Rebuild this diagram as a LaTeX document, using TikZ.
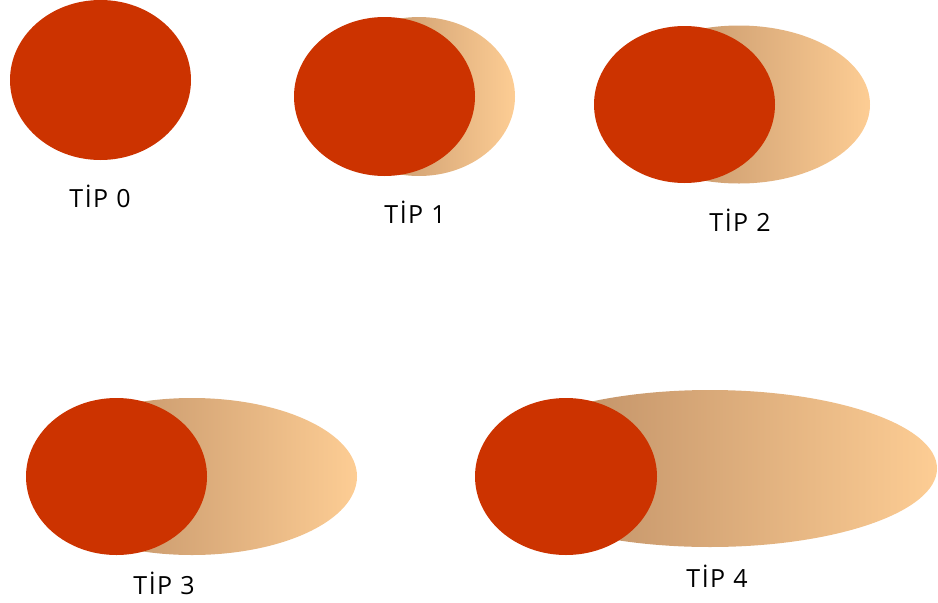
\documentclass[tikz,border=0pt]{standalone}
\usepackage{fontspec}
\setmainfont{Open Sans}[LetterSpace=6]
\usetikzlibrary{shapes.geometric}
\definecolor{redball}{RGB}{204,51,0}
\definecolor{tanL}{RGB}{180,133,94}
\definecolor{tanR}{RGB}{253,205,148}
\tikzset{
  ball/.style={ellipse, fill=redball, draw=none, minimum width=181pt, minimum height=158pt, inner sep=0pt},
  tail/.style={ellipse, left color=tanL, right color=tanR, draw=none, minimum height=158pt, inner sep=0pt},
  lbl/.style={font=\fontsize{25}{29}\selectfont, text=black, inner sep=0pt}
}
\begin{document}
\begin{tikzpicture}[x=1pt,y=-1pt]
\useasboundingbox (0,0) rectangle (938,603);
% TIP 0
\node[ball, minimum height=160pt] (b0) at (100.5,80) {};
\node[lbl] (l0) at (100,196) {TİP 0};
% TIP 1
\node[tail, minimum width=192pt, minimum height=159pt] (t1) at (419,96.5) {};
\node[ball, minimum height=159pt] (b1) at (384.5,96.5) {};
\node[lbl] (l1) at (415,212) {TİP 1};
% TIP 2
\node[tail, minimum width=262pt] (t2) at (739,104.5) {};
\node[ball, minimum height=157pt] (b2) at (684.5,104.5) {};
\node[lbl] (l2) at (740,220) {TİP 2};
% TIP 3
\node[tail, minimum width=330pt, minimum height=157pt] (t3) at (192,476.5) {};
\node[ball, minimum height=157pt] (b3) at (116.5,476.5) {};
\node[lbl] (l3) at (164,583) {TİP 3};
% TIP 4
\node[tail, minimum width=454pt, minimum height=157pt] (t4) at (710,468.5) {};
\node[ball, minimum width=182pt, minimum height=157pt] (b4) at (566,476.5) {};
\node[lbl] (l4) at (717,576) {TİP 4};
\end{tikzpicture}
\end{document}
